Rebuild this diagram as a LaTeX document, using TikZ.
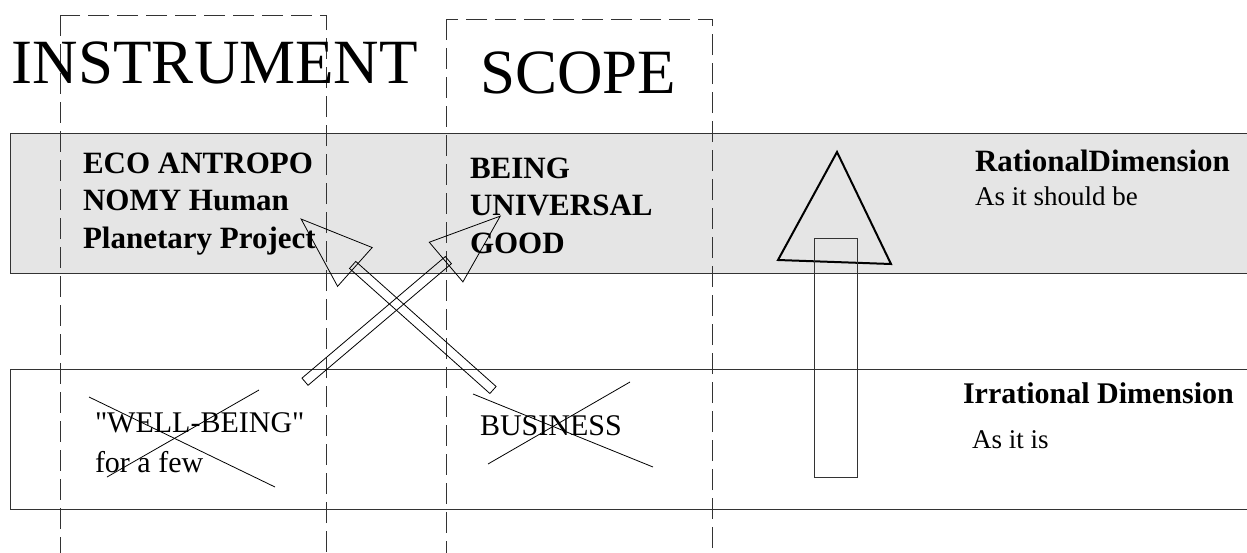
\documentclass[tikz,border=0pt]{standalone}
\usepackage{fontspec}
\setmainfont{Liberation Serif}
\usetikzlibrary{positioning}

\begin{document}
\begin{tikzpicture}[%
	x=1pt, y=-1pt,                  % pixel-like grid, top-down
	every node/.style={inner sep=0pt, outer sep=0pt},
	]
	% -------------------------------------------------
	% Styles for bands, columns and labels
	% (multi-line labels sit on the baseline of their last line)
	\tikzset{
		band/.style={draw=black!80, line width=0.9pt},
		column/.style={draw=black!80, line width=0.8pt, dash pattern=on 21pt off 8pt},
		title/.style={font=\fontsize{63}{70}\selectfont, anchor=base west},
		goal/.style={font=\fontsize{31}{37.5}\selectfont\bfseries, align=left, anchor=base west},
		plain/.style={font=\fontsize{30}{40}\selectfont, align=left, anchor=base west},
		dimhead/.style={font=\fontsize{30}{36}\selectfont\bfseries, anchor=base west},
		dimsub/.style={font=\fontsize{27}{32}\selectfont, anchor=base west},
		strike/.style={draw, line width=0.8pt},
		blockarrow/.style={draw, line width=0.8pt},
		lift/.style={draw, line width=2pt}
	}
	\useasboundingbox (0,0) rectangle (1247,552);

	% the two dimensions
	\draw[band, fill=black!10]	(10,133) rectangle (1262,273);
	\draw[band]					(10,369) rectangle (1262,509);

	% the two columns
	\draw[column]	(60,15)  rectangle (326,600);
	\draw[column]	(446,19) rectangle (712,600);

	\node[title]	(instr)		at (12,83)	{INSTRUMENT};
	\node[title]	(scope)		at (480,93)	{SCOPE};

	\node[goal]		(eco)		at (83,248)	{ECO ANTROPO\\NOMY Human\\Planetary Project};
	\node[goal]		(being)		at (470,253)	{BEING\\UNIVERSAL\\GOOD};

	\node[plain]	(well)		at (95,472)	{\textquotedbl WELL-BEING\textquotedbl\\for a few};
	\node[plain]	(business)	at (480,435)	{BUSINESS};

	\node[dimhead, font=\fontsize{31}{36}\selectfont\bfseries]
					(rational)	at (975,171)	{RationalDimension};
	\node[dimsub]	(should)	at (975,205)	{As it should be};
	\node[dimhead]	(irrational) at (963,403)	{Irrational Dimension};
	\node[dimsub]	(is)		at (972,448)	{As it is};

	% crossed out
	\draw[strike] (89,397)  -- (275,487);
	\draw[strike] (259,390) -- (107,477);
	\draw[strike] (473,394) -- (653,467);
	\draw[strike] (630,382) -- (488,464);

	% the rise from irrational to rational
	\draw[lift] (837,152) -- (778,260) -- (891,264) -- cycle;
	\draw[band, line width=0.8pt] (814,238) rectangle (857,477);

	% the two crossing block arrows
	\begin{scope}[shift={(305,381.7)}, rotate=40.3]
		\draw[blockarrow] (0,-4.7) rectangle (188,4.7);
		\draw[blockarrow] (185,-26) -- (256,0) -- (185,26) -- cycle;
	\end{scope}
	\begin{scope}[shift={(493,390)}, rotate=138.3]
		\draw[blockarrow] (0,-4.7) rectangle (188,4.7);
		\draw[blockarrow] (185,-26) -- (257,0) -- (185,26) -- cycle;
	\end{scope}

\end{tikzpicture}
\end{document}
